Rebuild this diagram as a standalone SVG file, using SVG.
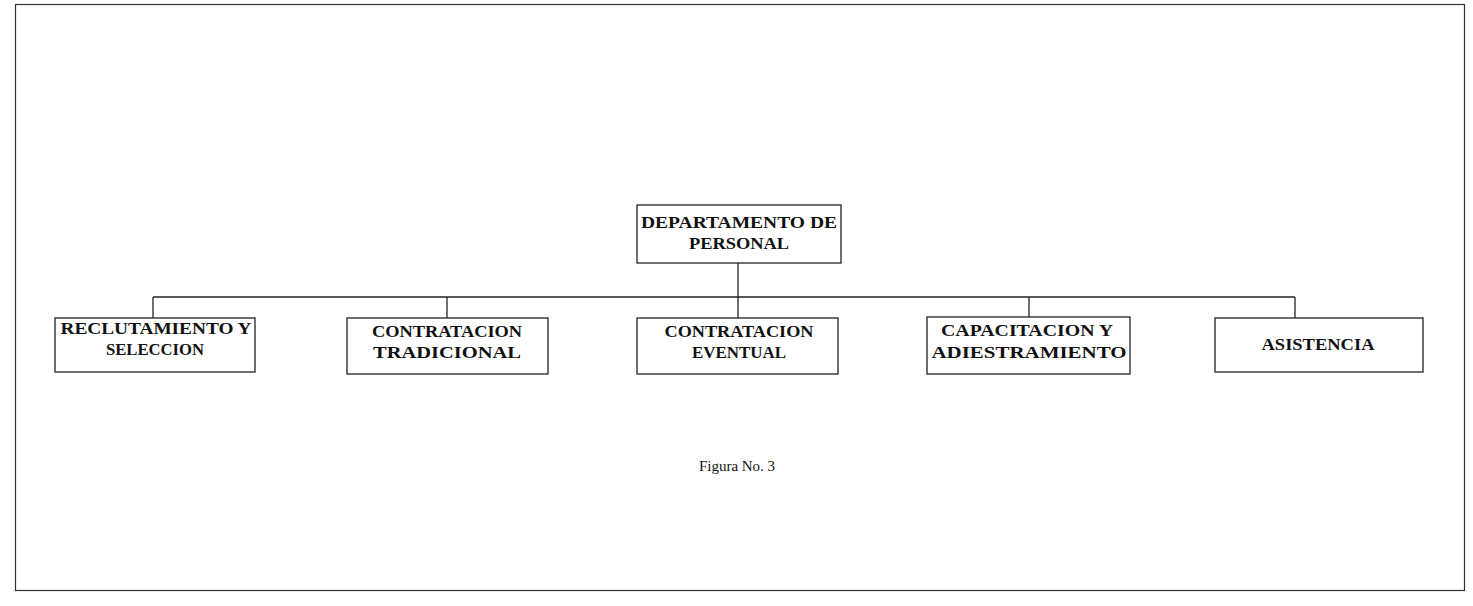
<svg xmlns="http://www.w3.org/2000/svg" width="1473" height="606" viewBox="0 0 1473 606">
  <style>
    .box { fill: #fff; stroke: #222; stroke-width: 1.3; }
    .lbl { font-family: "Liberation Serif", "Times New Roman", serif; font-weight: bold; font-size: 17px; fill: #111; text-anchor: middle; }
    .cap { font-family: "Liberation Serif", "Times New Roman", serif; font-size: 15px; fill: #111; text-anchor: middle; }
    .wire { stroke: #222; stroke-width: 1.3; fill: none; }
    .frame { fill: none; stroke: #333; stroke-width: 1.2; }
  </style>
  <rect width="1473" height="606" fill="#fff"/>

  <!-- outer page frame -->
  <rect class="frame" x="15.5" y="4.5" width="1449" height="586"/>

  <!-- connectors -->
  <g id="connectors">
    <line class="wire" x1="738" y1="263" x2="738" y2="318"/>
    <line class="wire" x1="153" y1="297" x2="1295" y2="297"/>
    <line class="wire" x1="153" y1="297" x2="153" y2="318"/>
    <line class="wire" x1="447" y1="297" x2="447" y2="318"/>
    <line class="wire" x1="1029" y1="297" x2="1029" y2="317"/>
    <line class="wire" x1="1295" y1="297" x2="1295" y2="318"/>
  </g>

  <!-- head of department -->
  <g id="departamento">
    <rect class="box" x="637" y="205" width="204" height="58"/>
    <text class="lbl" x="739" y="228" textLength="196" lengthAdjust="spacingAndGlyphs">DEPARTAMENTO DE</text>
    <text class="lbl" x="739" y="249" textLength="100" lengthAdjust="spacingAndGlyphs">PERSONAL</text>
  </g>

  <g id="reclutamiento">
    <rect class="box" x="55" y="318" width="200" height="54"/>
    <text class="lbl" x="156" y="334" textLength="191" lengthAdjust="spacingAndGlyphs">RECLUTAMIENTO Y</text>
    <text class="lbl" x="155" y="355" textLength="98" lengthAdjust="spacingAndGlyphs">SELECCION</text>
  </g>

  <g id="contratacion-tradicional">
    <rect class="box" x="347" y="318" width="201" height="56"/>
    <text class="lbl" x="447" y="337" textLength="150" lengthAdjust="spacingAndGlyphs">CONTRATACION</text>
    <text class="lbl" x="447" y="358" textLength="148" lengthAdjust="spacingAndGlyphs">TRADICIONAL</text>
  </g>

  <g id="contratacion-eventual">
    <rect class="box" x="637" y="318" width="201" height="56"/>
    <text class="lbl" x="739" y="337" textLength="149" lengthAdjust="spacingAndGlyphs">CONTRATACION</text>
    <text class="lbl" x="739" y="358" textLength="94" lengthAdjust="spacingAndGlyphs">EVENTUAL</text>
  </g>

  <g id="capacitacion">
    <rect class="box" x="927" y="317" width="203" height="57"/>
    <text class="lbl" x="1027" y="336" textLength="172" lengthAdjust="spacingAndGlyphs">CAPACITACION Y</text>
    <text class="lbl" x="1029" y="358" textLength="195" lengthAdjust="spacingAndGlyphs">ADIESTRAMIENTO</text>
  </g>

  <g id="asistencia">
    <rect class="box" x="1215" y="318" width="208" height="54"/>
    <text class="lbl" x="1318" y="350" textLength="113" lengthAdjust="spacingAndGlyphs">ASISTENCIA</text>
  </g>

  <text class="cap" x="737" y="471">Figura No. 3</text>
</svg>
